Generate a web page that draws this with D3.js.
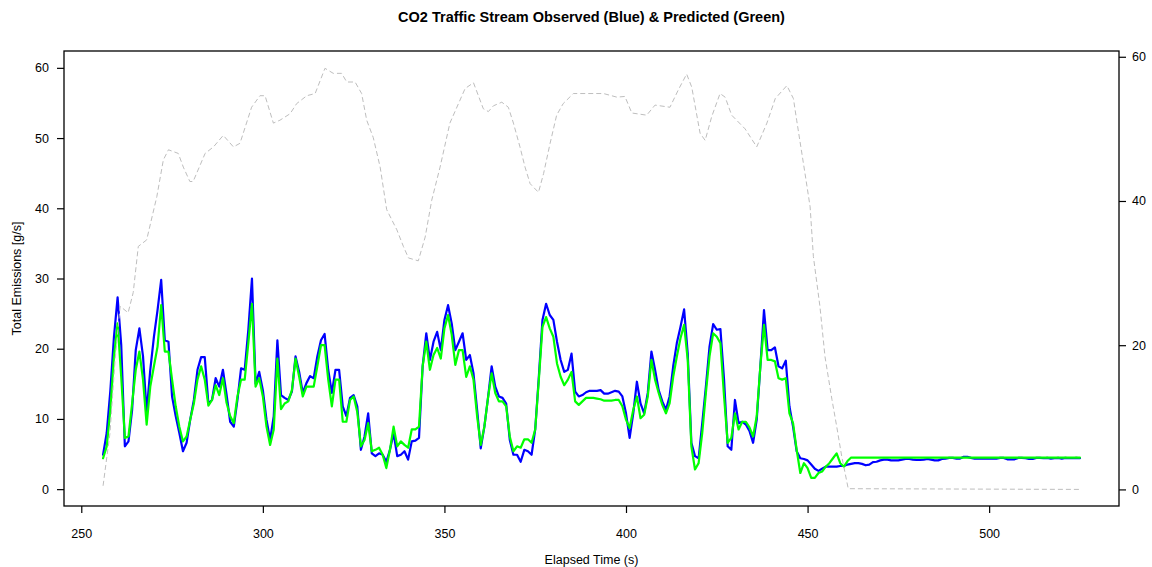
<!DOCTYPE html>
<html>
<head>
<meta charset="utf-8">
<script src="https://cdn.jsdelivr.net/npm/d3@7"></script>
<style>
  body { margin: 0; background: #fff; }
  text { font-family: "Liberation Sans", Arial, Helvetica, sans-serif; fill: #000; }
</style>
</head>
<body>
<svg id="chart" width="1152" height="567"></svg>
<script>
// Emission series sampled once per second, starting at this elapsed time (s)
const startTime = 256;

// Observed CO2 emissions [g/s], 256 s .. 525 s
const observed = [
  4.9, 8.0, 14.0, 21.7, 27.3, 20.5, 6.1, 6.8, 11.3, 19.8,
  22.9, 18.9, 11.0, 17.0, 21.7, 25.5, 29.8, 21.2, 21.0, 13.2,
  10.4, 8.0, 5.4, 6.6, 9.9, 12.7, 17.0, 18.8, 18.8, 12.2,
  12.7, 15.8, 14.6, 17.0, 13.5, 9.6, 8.9, 12.7, 17.2, 17.0,
  22.7, 30.0, 15.0, 16.7, 14.1, 9.9, 7.0, 10.4, 21.2, 13.4,
  13.0, 12.7, 13.9, 18.9, 16.7, 13.7, 15.1, 16.1, 15.8, 18.9,
  21.2, 22.1, 17.0, 13.7, 17.0, 17.0, 11.8, 10.4, 13.0, 13.4,
  11.8, 5.6, 7.5, 10.8, 5.1, 4.7, 5.1, 4.9, 3.9, 5.6,
  8.0, 4.7, 4.9, 5.4, 4.2, 6.8, 6.9, 7.3, 17.5, 22.2,
  18.4, 21.0, 22.4, 19.8, 24.1, 26.2, 23.6, 19.8, 21.0, 22.2,
  18.4, 19.1, 16.5, 11.3, 5.8, 8.9, 13.0, 17.5, 14.6, 13.2,
  13.0, 12.2, 7.0, 4.9, 4.9, 3.9, 5.6, 5.4, 4.9, 8.5,
  16.0, 24.1, 26.4, 24.8, 24.1, 21.0, 18.4, 16.7, 17.0, 19.3,
  13.9, 13.2, 13.4, 13.8, 14.0, 14.0, 14.0, 14.1, 13.6, 13.6,
  13.8, 14.0, 13.9, 13.2, 10.8, 7.3, 10.8, 15.3, 12.2, 10.8,
  13.7, 19.6, 17.0, 14.1, 12.5, 11.3, 13.2, 17.5, 20.8, 23.1,
  25.6, 19.3, 6.6, 4.7, 4.4, 9.4, 14.6, 20.3, 23.5, 22.7,
  22.8, 15.6, 6.1, 5.6, 12.7, 9.4, 9.6, 9.2, 8.3, 6.6,
  9.9, 17.5, 25.5, 19.8, 19.8, 20.2, 17.5, 17.2, 18.3, 11.8,
  8.9, 5.4, 4.4, 4.3, 4.1, 3.5, 2.9, 2.6, 2.9, 3.2,
  3.2, 3.2, 3.2, 3.3, 3.3, 3.5, 3.6, 3.7, 3.7, 3.6,
  3.4, 3.5, 3.85, 3.9, 4.1, 4.2, 4.2, 4.1, 4.1, 4.1,
  4.2, 4.3, 4.3, 4.2, 4.15, 4.15, 4.2, 4.3, 4.2, 4.1,
  4.1, 4.3, 4.35, 4.45, 4.45, 4.35, 4.35, 4.6, 4.6, 4.45,
  4.35, 4.35, 4.35, 4.35, 4.35, 4.35, 4.35, 4.45, 4.45, 4.25,
  4.25, 4.25, 4.45, 4.45, 4.4, 4.3, 4.3, 4.45, 4.45, 4.4,
  4.45, 4.35, 4.4, 4.45, 4.35, 4.45, 4.4, 4.4, 4.45, 4.4
];

// Predicted CO2 emissions [g/s], 256 s .. 525 s
const predicted = [
  4.4, 6.1, 11.3, 18.9, 23.6, 16.0, 7.3, 7.5, 12.2, 17.0,
  19.6, 15.6, 9.2, 14.6, 17.5, 20.3, 26.2, 19.6, 19.6, 15.6,
  11.8, 8.9, 6.8, 7.5, 9.9, 12.2, 15.6, 17.5, 15.6, 11.9,
  12.7, 14.8, 13.4, 15.8, 12.3, 10.4, 9.4, 13.2, 15.6, 15.6,
  20.8, 26.4, 14.6, 15.8, 13.2, 8.9, 6.3, 8.5, 18.6, 11.4,
  12.2, 12.5, 14.1, 18.6, 16.0, 13.2, 14.6, 14.6, 14.6, 17.5,
  20.5, 20.5, 15.6, 11.8, 15.6, 15.6, 9.6, 9.6, 12.7, 13.2,
  11.0, 6.1, 7.0, 9.4, 5.4, 5.6, 5.9, 4.9, 3.0, 5.6,
  8.9, 6.1, 6.8, 6.3, 5.9, 8.5, 8.5, 8.9, 17.5, 21.0,
  17.0, 19.1, 20.1, 18.6, 22.9, 24.8, 22.0, 17.7, 19.8, 19.8,
  16.0, 17.5, 15.6, 10.4, 6.3, 8.9, 13.0, 16.5, 13.7, 12.5,
  12.5, 11.8, 7.5, 5.4, 6.1, 5.9, 7.1, 7.1, 6.6, 8.5,
  15.6, 23.1, 24.5, 22.9, 21.7, 17.9, 16.0, 14.8, 15.6, 16.7,
  12.5, 12.0, 12.5, 13.0, 13.0, 13.0, 12.9, 12.8, 12.6, 12.6,
  12.6, 12.7, 12.7, 11.8, 9.9, 8.7, 11.3, 13.2, 10.1, 10.6,
  13.2, 18.4, 15.6, 13.7, 12.0, 10.8, 12.2, 16.0, 18.9, 21.5,
  23.4, 18.4, 6.1, 2.8, 3.7, 8.0, 13.7, 18.9, 22.2, 21.7,
  20.8, 13.2, 6.6, 7.3, 10.8, 8.5, 9.6, 9.6, 8.8, 7.5,
  10.4, 17.5, 23.4, 18.4, 18.4, 18.2, 15.8, 15.6, 15.8, 10.8,
  9.4, 5.6, 2.3, 3.7, 3.0, 1.6, 1.6, 2.3, 2.5, 3.2,
  3.7, 4.4, 5.1, 3.7, 3.2, 4.0, 4.5, 4.5, 4.5, 4.5,
  4.5, 4.5, 4.5, 4.5, 4.5, 4.5, 4.5, 4.5, 4.5, 4.5,
  4.5, 4.5, 4.5, 4.5, 4.5, 4.5, 4.5, 4.5, 4.5, 4.5,
  4.5, 4.5, 4.5, 4.5, 4.5, 4.5, 4.5, 4.5, 4.5, 4.5,
  4.5, 4.5, 4.5, 4.5, 4.5, 4.5, 4.5, 4.5, 4.5, 4.5,
  4.5, 4.5, 4.5, 4.5, 4.5, 4.5, 4.5, 4.5, 4.5, 4.5,
  4.5, 4.5, 4.5, 4.5, 4.5, 4.5, 4.5, 4.5, 4.5, 4.5
];

// Secondary series on the right axis (dashed grey trace)
const speedTime = [
  256, 257.9, 259.3, 260.7, 262.9, 264.3, 265.7, 268, 270.8, 272.6,
  274, 276.7, 278.1, 279.9, 280.8, 284.1, 286.4, 289.1, 291.9, 293.7,
  296.9, 299.2, 300.6, 302.9, 304.7, 307.5, 309.3, 312.1, 314.4, 317.1,
  319.4, 321.7, 323.1, 325.4, 327.2, 328.6, 330.4, 332.3, 334.1, 336.9,
  338.7, 340.1, 342.8, 344.7, 346.5, 348.8, 351.5, 354.3, 355.7, 358,
  360.7, 362.1, 363.5, 365.8, 367.6, 369, 370.8, 372.2, 373.6, 375.9,
  377.3, 379.1, 380.9, 382.7, 385.5, 389.2, 393.8, 397.5, 399.7, 401.6,
  405.7, 408, 412.1, 414.4, 416.7, 418.1, 420.4, 421.8, 423.6, 425.9,
  427.3, 429.1, 432.8, 436, 438.8, 441.1, 444.3, 446.1, 447, 449.3,
  450.7, 451.6, 453.4, 454.8, 456.7, 458, 459.4, 461.2, 525
];
const speedValue = [
  0.5, 7.8, 18, 25.4, 24.5, 27.3, 33.7, 34.6, 40.6, 45.7,
  47.1, 46.6, 44.7, 42.7, 42.7, 46.6, 47.5, 49.1, 47.5, 48,
  53, 54.6, 54.6, 50.8, 51.2, 52.1, 53.5, 54.6, 54.9, 58.4,
  57.7, 57.7, 56.5, 56.5, 54.9, 51.2, 48.8, 44.7, 38.8, 36,
  33.7, 32.1, 31.7, 35, 40.1, 44.7, 50.8, 54, 55.6, 56.4,
  52.8, 52.4, 53.2, 53.7, 53, 50.8, 47.5, 44.7, 42.4, 41.2,
  43.8, 48, 51.9, 53.5, 54.9, 54.9, 54.9, 54.4, 54.5, 52.2,
  51.9, 53.3, 53, 55.4, 57.6, 55.8, 49.4, 48.4, 51.7, 54.9,
  54.4, 51.9, 50, 47.5, 50.8, 54.2, 56, 54.2, 51.2, 43.8,
  39.2, 32.3, 25.4, 18.4, 12.5, 8.8, 4.6, 0.1, 0
];

// Axis ticks and labels
const xTicks = [250, 300, 350, 400, 450, 500];
const leftTicks = [0, 10, 20, 30, 40, 50, 60];
const rightTicks = [0, 20, 40, 60];
const titleText = "CO2 Traffic Stream Observed (Blue) & Predicted (Green)";
const xLabel = "Elapsed Time (s)";
const yLabel = "Total Emissions [g/s]";

// Plot frame
const frame = { left: 64, right: 1119, top: 51, bottom: 506 };
const svg = d3.select("#chart");
svg.append("rect").attr("width", 1152).attr("height", 567).attr("fill", "#fff");

const x = d3.scaleLinear().domain([245.24, 535.76]).range([frame.left, frame.right]);
const yL = d3.scaleLinear().domain([-2.4, 62.4]).range([frame.bottom, frame.top]);
const yR = d3.scaleLinear().domain([-2.3, 60.8]).range([frame.bottom, frame.top]);

const obsPts = observed.map((v, i) => [startTime + i, v]);
const predPts = predicted.map((v, i) => [startTime + i, v]);
const speedPts = speedTime.map((t, i) => [t, speedValue[i]]);

const lineL = d3.line().x(d => x(d[0])).y(d => yL(d[1]));
const lineR = d3.line().x(d => x(d[0])).y(d => yR(d[1]));

svg.append("path").datum(obsPts).attr("d", lineL)
  .attr("fill", "none").attr("stroke", "#0000ff").attr("stroke-width", 2.2)
  .attr("stroke-linejoin", "round").attr("stroke-linecap", "round");
svg.append("path").datum(predPts).attr("d", lineL)
  .attr("fill", "none").attr("stroke", "#00ff00").attr("stroke-width", 2.2)
  .attr("stroke-linejoin", "round").attr("stroke-linecap", "round");
svg.append("path").datum(speedPts).attr("d", lineR)
  .attr("fill", "none").attr("stroke", "#bebebe").attr("stroke-width", 1)
  .attr("stroke-dasharray", "5,3");

// Frame box
svg.append("rect")
  .attr("x", frame.left).attr("y", frame.top)
  .attr("width", frame.right - frame.left).attr("height", frame.bottom - frame.top)
  .attr("fill", "none").attr("stroke", "#000").attr("stroke-width", 1.3);

function styleAxis(g) {
  g.select(".domain").remove();
  g.selectAll(".tick line").attr("stroke", "#000").attr("stroke-width", 1.2);
  g.selectAll(".tick text").style("font-size", "12.5px")
    .style("font-family", '"Liberation Sans", Arial, sans-serif').attr("fill", "#000");
}

svg.append("g").attr("transform", `translate(0,${frame.bottom})`)
  .call(d3.axisBottom(x).tickValues(xTicks).tickSize(7).tickPadding(16).tickFormat(d3.format("d")))
  .call(styleAxis);
svg.append("g").attr("transform", `translate(${frame.left},0)`)
  .call(d3.axisLeft(yL).tickValues(leftTicks).tickSize(7).tickPadding(8).tickFormat(d3.format("d")))
  .call(styleAxis);
svg.append("g").attr("transform", `translate(${frame.right},0)`)
  .call(d3.axisRight(yR).tickValues(rightTicks).tickSize(7).tickPadding(6).tickFormat(d3.format("d")))
  .call(styleAxis);

const cx = (frame.left + frame.right) / 2;
svg.append("text").attr("x", cx).attr("y", 22).attr("text-anchor", "middle")
  .style("font-size", "14.5px").style("font-weight", "bold").text(titleText);
svg.append("text").attr("x", cx).attr("y", 564).attr("text-anchor", "middle")
  .style("font-size", "12.5px").text(xLabel);
svg.append("text")
  .attr("transform", `translate(21,${(frame.top + frame.bottom) / 2}) rotate(-90)`)
  .attr("text-anchor", "middle").style("font-size", "12.5px").text(yLabel);
</script>
</body>
</html>
